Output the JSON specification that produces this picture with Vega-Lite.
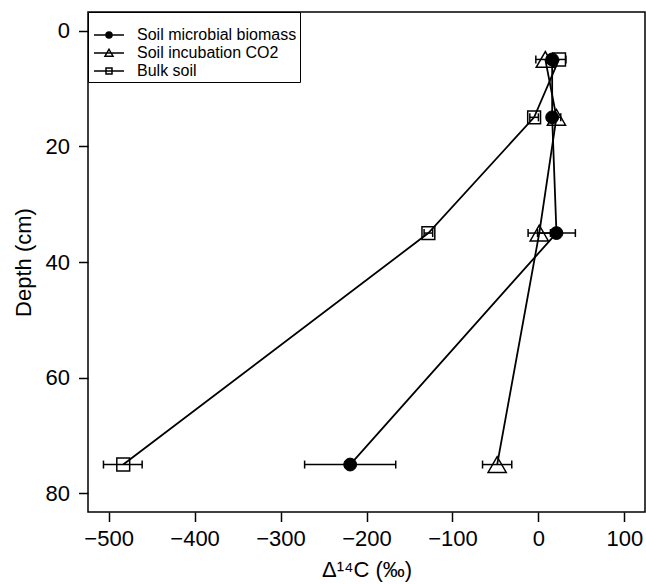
{
  "$schema": "https://vega.github.io/schema/vega-lite/v6.json",
  "width": 557,
  "height": 500,
  "autosize": {"type": "none"},
  "padding": {"left": 88, "top": 12, "right": 1, "bottom": 72},
  "background": "white",
  "config": {
    "font": "Liberation Sans",
    "view": {"stroke": "black", "strokeWidth": 1.5},
    "axis": {
      "grid": false,
      "domain": false,
      "tickColor": "black",
      "tickWidth": 1.5,
      "tickSize": 9.5,
      "labelColor": "black",
      "labelFont": "Liberation Sans",
      "labelFontSize": 22,
      "titleColor": "black",
      "titleFont": "Liberation Sans",
      "titleFontSize": 22,
      "titleFontWeight": "normal"
    },
    "legend": {
      "titleFontSize": 8,
      "titlePadding": 4,
      "orient": "top-left",
      "offset": 0,
      "padding": 3,
      "rowPadding": 2,
      "symbolSize": 100,
      "symbolOpacity": 1,
      "symbolStrokeWidth": 1.5,
      "labelOffset": 30,
      "labelFont": "Liberation Sans",
      "labelFontSize": 16,
      "labelColor": "black",
      "strokeColor": "black",
      "fillColor": "white"
    }
  },
  "data": {
    "values": [
      {"series": "Soil microbial biomass", "depth": 5, "d14c": 16, "lo": 12, "hi": 20},
      {"series": "Soil microbial biomass", "depth": 15, "d14c": 16, "lo": 13, "hi": 19},
      {"series": "Soil microbial biomass", "depth": 35, "d14c": 21, "lo": -1, "hi": 43},
      {"series": "Soil microbial biomass", "depth": 75, "d14c": -219, "lo": -272, "hi": -166},
      {"series": "Soil incubation CO2", "depth": 5, "d14c": 8, "lo": -3, "hi": 19},
      {"series": "Soil incubation CO2", "depth": 15, "d14c": 21, "lo": 16, "hi": 26},
      {"series": "Soil incubation CO2", "depth": 35, "d14c": 1, "lo": -12, "hi": 14},
      {"series": "Soil incubation CO2", "depth": 75, "d14c": -48, "lo": -65, "hi": -31},
      {"series": "Bulk soil", "depth": 5, "d14c": 24, "lo": 16, "hi": 32},
      {"series": "Bulk soil", "depth": 15, "d14c": -5, "lo": -10, "hi": 0},
      {"series": "Bulk soil", "depth": 35, "d14c": -128, "lo": -133, "hi": -123},
      {"series": "Bulk soil", "depth": 75, "d14c": -483, "lo": -506, "hi": -461}
    ]
  },
  "encoding": {
    "y": {
      "field": "depth",
      "type": "quantitative",
      "title": "Depth (cm)",
      "scale": {"domain": [-3.2, 83.2], "reverse": true, "nice": false, "zero": false},
      "axis": {"values": [0, 20, 40, 60, 80], "labelPadding": 9, "titlePadding": 10}
    }
  },
  "layer": [
    {
      "mark": {"type": "line", "color": "black", "strokeWidth": 1.8},
      "encoding": {
        "x": {
          "field": "d14c",
          "type": "quantitative",
          "title": "Δ¹⁴C (‰)",
          "scale": {"domain": [-524, 124], "nice": false, "zero": false},
          "axis": {"values": [-500, -400, -300, -200, -100, 0, 100], "labelPadding": 7, "titlePadding": 10}
        },
        "detail": {"field": "series"},
        "order": {"field": "depth"}
      }
    },
    {
      "mark": {"type": "rule", "color": "black", "strokeWidth": 1.5},
      "encoding": {
        "x": {"field": "lo", "type": "quantitative"},
        "x2": {"field": "hi"}
      }
    },
    {
      "mark": {"type": "tick", "orient": "vertical", "color": "black", "size": 8, "thickness": 1.5, "opacity": 1},
      "encoding": {"x": {"field": "lo", "type": "quantitative"}}
    },
    {
      "mark": {"type": "tick", "orient": "vertical", "color": "black", "size": 8, "thickness": 1.5, "opacity": 1},
      "encoding": {"x": {"field": "hi", "type": "quantitative"}}
    },
    {
      "transform": [{"filter": {"field": "series", "equal": "Soil microbial biomass"}}],
      "mark": {"type": "point", "shape": "circle", "filled": true, "fill": "black", "stroke": "black", "strokeWidth": 1, "size": 165, "opacity": 1},
      "encoding": {"x": {"field": "d14c", "type": "quantitative"}}
    },
    {
      "transform": [{"filter": {"field": "series", "equal": "Soil incubation CO2"}}],
      "mark": {"type": "point", "shape": "triangle-up", "filled": false, "color": "black", "strokeWidth": 1.5, "size": 330, "opacity": 1},
      "encoding": {"x": {"field": "d14c", "type": "quantitative"}}
    },
    {
      "transform": [{"filter": {"field": "series", "equal": "Bulk soil"}}],
      "mark": {"type": "point", "shape": "square", "filled": false, "color": "black", "strokeWidth": 1.5, "size": 165, "opacity": 1},
      "encoding": {"x": {"field": "d14c", "type": "quantitative"}}
    },
    {
      "mark": {"type": "point", "filled": false, "color": "black", "strokeWidth": 1.5, "opacity": 0},
      "encoding": {
        "x": {"field": "d14c", "type": "quantitative"},
        "shape": {
          "field": "series",
          "type": "nominal",
          "scale": {
            "domain": ["Soil microbial biomass", "Soil incubation CO2", "Bulk soil"],
            "range": [
              "M-1,0H5M2.6,0A0.6,0.6,0,1,1,1.4,0A0.6,0.6,0,1,1,2.6,0Z",
              "M-1,0H5M2,-0.75L2.8,0.65L1.2,0.65Z",
              "M-1,0H5M1.4,-0.6H2.6V0.6H1.4Z"
            ]
          },
          "legend": {"title": "\u00a0"}
        },
        "fill": {
          "field": "series",
          "type": "nominal",
          "scale": {
            "domain": ["Soil microbial biomass", "Soil incubation CO2", "Bulk soil"],
            "range": ["black", "transparent", "transparent"]
          },
          "legend": {"title": "\u00a0"}
        }
      }
    }
  ]
}
